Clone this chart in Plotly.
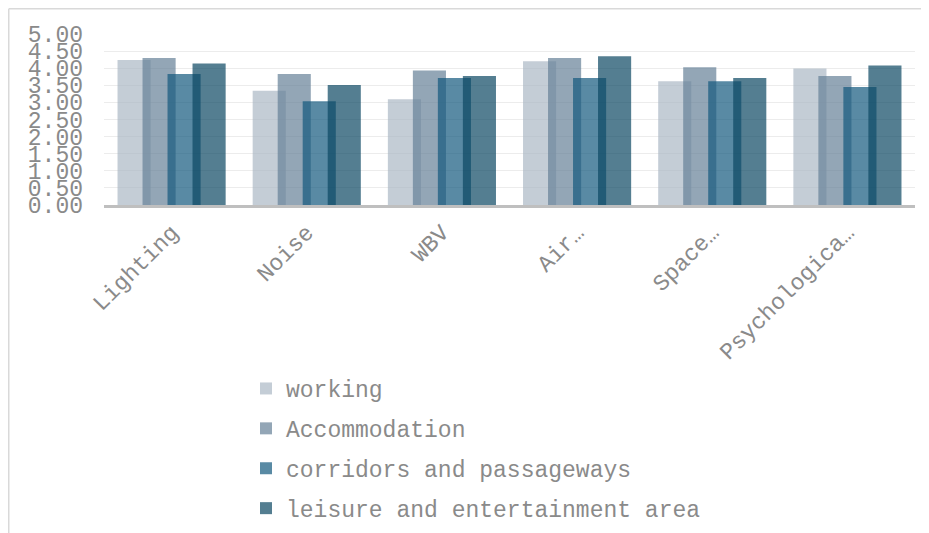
import plotly.graph_objects as go

categories = ["Lighting", "Noise", "WBV", "Air…", "Space…", "Psychologica…"]
series_names = ["working", "Accommodation", "corridors and passageways", "leisure and entertainment area"]
working = [4.24, 3.34, 3.09, 4.20, 3.62, 3.99]
accommodation = [4.30, 3.83, 3.93, 4.30, 4.03, 3.77]
corridors = [3.83, 3.03, 3.71, 3.71, 3.62, 3.45]
leisure = [4.14, 3.51, 3.77, 4.35, 3.71, 4.08]
y_ticks = [0, 0.5, 1, 1.5, 2, 2.5, 3, 3.5, 4, 4.5, 5]
y_tick_text = ["%.2f" % v for v in y_ticks]

values = [working, accommodation, corridors, leisure]
colors = ["rgba(171,184,196,0.7)", "rgba(101,128,151,0.7)", "rgba(19,89,126,0.7)", "rgba(12,71,99,0.7)"]
offsets = [-0.4, -0.215, -0.03, 0.155]
bar_w = 0.245

FONT = "Liberation Mono, Courier New, monospace"
GRAY = "#8a8a8a"

fig = go.Figure()
for name, vals, col, off in zip(series_names, values, colors, offsets):
    fig.add_trace(go.Bar(
        x=categories, y=vals, name=name,
        marker=dict(color=col, line=dict(width=0)),
        offset=off, width=bar_w, legendgroup=name,
    ))

# page has an 8px body margin; figure coords = page coords - 8
OFF = 8
W, H = 929 - OFF, 533 - OFF
px0, px1, py0, py1 = 104 - OFF, 915 - OFF, 205 - OFF, 34 - OFF
def xp(p):
    return (p - OFF - px0) / (px1 - px0)
def yp(p):
    return (py0 - (p - OFF)) / (py0 - py1)

fig.update_layout(
    width=W, height=H,
    margin=dict(l=px0, r=W - px1, t=py1, b=H - py0, pad=0, autoexpand=False),
    barmode="overlay",
    plot_bgcolor="white", paper_bgcolor="white",
    font=dict(family=FONT, size=23, color=GRAY),
    showlegend=True,
    legend=dict(
        x=xp(246), y=yp(367), xanchor="left", yanchor="top",
        orientation="v", traceorder="grouped", tracegroupgap=7,
        font=dict(family=FONT, size=23, color=GRAY),
        bgcolor="rgba(0,0,0,0)", itemwidth=30,
    ),
    xaxis=dict(
        range=[-0.5, 5.5], tickangle=-45, showgrid=False,
        showline=True, linecolor="#bfbfbf", linewidth=2.5,
        ticks="", tickfont=dict(family=FONT, size=23, color=GRAY),
        ticklabelstandoff=2, automargin=False,
    ),
    yaxis=dict(
        range=[0, 5], tickvals=y_ticks, ticktext=y_tick_text,
        showgrid=True, gridcolor="#ececec", gridwidth=1,
        zeroline=False, showline=False, ticks="",
        tickfont=dict(family=FONT, size=23, color=GRAY),
        ticklabelstandoff=20, automargin=False,
    ),
    shapes=[
        dict(type="line", xref="paper", yref="paper",
             x0=xp(8.75), x1=xp(929), y0=yp(8.75), y1=yp(8.75),
             line=dict(color="#d9d9d9", width=1.5)),
        dict(type="line", xref="paper", yref="paper",
             x0=xp(8.75), x1=xp(8.75), y0=yp(8.75), y1=yp(533),
             line=dict(color="#d9d9d9", width=1.5)),
    ],
)

fig.write_html("out.html")
